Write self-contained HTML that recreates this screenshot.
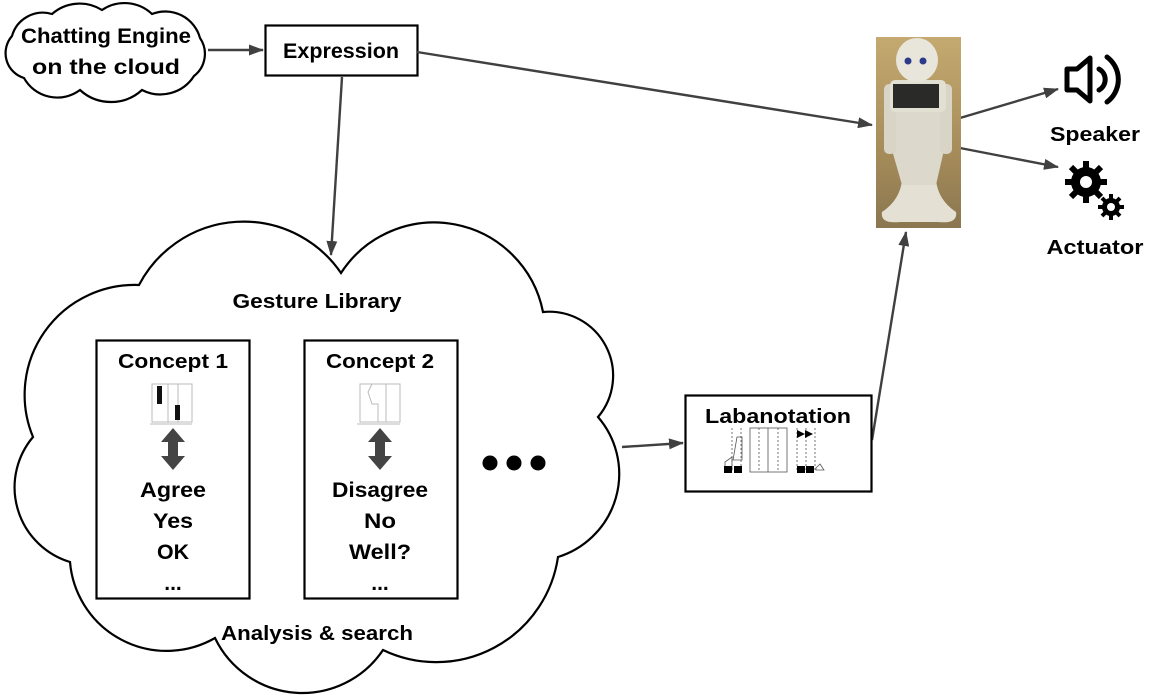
<!DOCTYPE html>
<html><head><meta charset="utf-8"><style>
html,body{margin:0;padding:0;background:#fff;}
svg{display:block;}
text{font-family:"Liberation Sans",sans-serif;font-weight:bold;fill:#000;}
</style></head><body>
<svg width="1157" height="695" viewBox="0 0 1157 695" xmlns="http://www.w3.org/2000/svg">
<defs>
<marker id="ah" markerWidth="15" markerHeight="11" refX="14" refY="5.5" orient="auto" markerUnits="userSpaceOnUse" viewBox="0 0 15 11"><path d="M0,0 L15,5.5 L0,11 z" fill="#404040"/></marker>
<linearGradient id="bg" x1="0" y1="0" x2="0" y2="1"><stop offset="0" stop-color="#c4a970"/><stop offset="0.6" stop-color="#a68c5a"/><stop offset="1" stop-color="#8a7650"/></linearGradient>
</defs>

<!-- small cloud -->
<path fill="#fff" stroke="#000" stroke-width="2.2"
 d="M12,36 A32,32 0 0 1 52,14 A42,42 0 0 1 102,10 A40,40 0 0 1 152,14 A36,36 0 0 1 200,38 A28,28 0 0 1 194,76 A40,40 0 0 1 142,90 A46,46 0 0 1 80,90 A38,38 0 0 1 24,78 A26,26 0 0 1 12,36 Z"/>
<text x="106" y="43" font-size="21" text-anchor="middle" textLength="170" lengthAdjust="spacingAndGlyphs">Chatting Engine</text>
<text x="106" y="74" font-size="21" text-anchor="middle" textLength="148" lengthAdjust="spacingAndGlyphs">on the cloud</text>

<!-- expression box -->
<rect x="265.5" y="25.5" width="152" height="50" fill="#fff" stroke="#000" stroke-width="2.2"/>
<text x="341" y="58" font-size="21" text-anchor="middle" textLength="116" lengthAdjust="spacingAndGlyphs">Expression</text>

<!-- arrows -->
<g stroke="#404040" stroke-width="2.4" fill="none">
<line x1="208" y1="50" x2="263" y2="50" marker-end="url(#ah)"/>
<line x1="417" y1="52" x2="872" y2="125" marker-end="url(#ah)"/>
<line x1="342" y1="77" x2="331" y2="255" marker-end="url(#ah)"/>
<line x1="622" y1="447" x2="683" y2="443" marker-end="url(#ah)"/>
<line x1="872" y1="440" x2="906" y2="232" marker-end="url(#ah)"/>
<line x1="960" y1="118" x2="1058" y2="89" marker-end="url(#ah)"/>
<line x1="960" y1="148" x2="1058" y2="167" marker-end="url(#ah)"/>
</g>

<!-- big cloud -->
<path fill="#fff" stroke="#000" stroke-width="2.2"
 d="M33,437 A110,110 0 0 1 139,285 A118,118 0 0 1 341,273 A111,111 0 0 1 543,312 A64,64 0 0 1 598,417 A87,87 0 0 1 558,557 A123,123 0 0 1 383,650 A97,97 0 0 1 215,638 A97,97 0 0 1 70,562 A78,78 0 0 1 33,437 Z"/>
<text x="317" y="308" font-size="20" text-anchor="middle" textLength="169" lengthAdjust="spacingAndGlyphs">Gesture Library</text>
<text x="317" y="640" font-size="20" text-anchor="middle" textLength="192" lengthAdjust="spacingAndGlyphs">Analysis &amp; search</text>

<!-- concept 1 -->
<g>
<rect x="96.5" y="340.5" width="153" height="258" fill="#fff" stroke="#000" stroke-width="2.2"/>
<text x="173" y="368" font-size="20" text-anchor="middle" textLength="110" lengthAdjust="spacingAndGlyphs">Concept 1</text>
<g stroke="#bbb" stroke-width="1" fill="none"><rect x="152" y="384" width="40" height="38"/><line x1="168" y1="384" x2="168" y2="422"/><line x1="178" y1="384" x2="178" y2="422"/><line x1="150" y1="424" x2="192" y2="424"/></g>
<rect x="157" y="386" width="5" height="18" fill="#111"/><rect x="175" y="405" width="5" height="15" fill="#111"/>
<path d="M173,428 L185,442 L178,442 L178,456 L185,456 L173,470 L161,456 L168,456 L168,442 L161,442 Z" fill="#444"/>
<text x="173" y="497" font-size="21" text-anchor="middle" textLength="66" lengthAdjust="spacingAndGlyphs">Agree</text>
<text x="173" y="528" font-size="21" text-anchor="middle" textLength="40" lengthAdjust="spacingAndGlyphs">Yes</text>
<text x="173" y="559" font-size="21" text-anchor="middle" textLength="32" lengthAdjust="spacingAndGlyphs">OK</text>
<text x="173" y="590" font-size="21" text-anchor="middle">...</text>
</g>

<!-- concept 2 -->
<g>
<rect x="304.5" y="340.5" width="153" height="258" fill="#fff" stroke="#000" stroke-width="2.2"/>
<text x="380" y="368" font-size="20" text-anchor="middle" textLength="108" lengthAdjust="spacingAndGlyphs">Concept 2</text>
<g stroke="#bbb" stroke-width="1" fill="none"><rect x="360" y="384" width="40" height="38"/><path d="M372,384 L368,392 L372,404 L378,404 L378,422"/><line x1="386" y1="384" x2="386" y2="422"/><line x1="357" y1="424" x2="400" y2="424"/></g>
<path d="M380,428 L392,442 L385,442 L385,456 L392,456 L380,470 L368,456 L375,456 L375,442 L368,442 Z" fill="#444"/>
<text x="380" y="497" font-size="21" text-anchor="middle" textLength="96" lengthAdjust="spacingAndGlyphs">Disagree</text>
<text x="380" y="528" font-size="21" text-anchor="middle" textLength="32" lengthAdjust="spacingAndGlyphs">No</text>
<text x="380" y="559" font-size="21" text-anchor="middle" textLength="62" lengthAdjust="spacingAndGlyphs">Well?</text>
<text x="380" y="590" font-size="21" text-anchor="middle">...</text>
</g>

<!-- ellipsis dots -->
<g fill="#000">
<circle cx="490" cy="463" r="7.5"/><circle cx="514" cy="463" r="7.5"/><circle cx="538" cy="463" r="7.5"/>
</g>

<!-- labanotation box -->
<g>
<rect x="685.5" y="395.5" width="186" height="96" fill="#fff" stroke="#000" stroke-width="2.2"/>
<text x="778" y="423" font-size="20" text-anchor="middle" textLength="146" lengthAdjust="spacingAndGlyphs">Labanotation</text>
<g stroke="#555" stroke-width="0.8" fill="none">
<line x1="732" y1="428" x2="732" y2="472" stroke-dasharray="2,2"/><line x1="741" y1="428" x2="741" y2="472" stroke-dasharray="2,2"/>
<rect x="750" y="428" width="37" height="44"/><line x1="768" y1="428" x2="768" y2="472"/>
<line x1="759" y1="428" x2="759" y2="472" stroke-dasharray="2,2"/><line x1="778" y1="428" x2="778" y2="472" stroke-dasharray="2,2"/>
<line x1="797" y1="428" x2="797" y2="472" stroke-dasharray="2,2"/><line x1="806" y1="428" x2="806" y2="472" stroke-dasharray="2,2"/><line x1="815" y1="428" x2="815" y2="472" stroke-dasharray="2,2"/>
<path d="M737,437 L742,437 L742,460 L733,460 Z"/><path d="M725,462 L732,457 L732,470 L725,470 Z"/><path d="M816,468 L820,464 L824,470 L816,470 Z"/>
</g>
<rect x="724" y="466" width="8" height="7" fill="#000"/><rect x="734" y="466" width="8" height="7" fill="#000"/>
<rect x="797" y="466" width="8" height="7" fill="#000"/><rect x="806" y="466" width="8" height="7" fill="#000"/>
<path d="M797,430 L805,434 L797,438 Z M805,430 L813,434 L805,438 Z" fill="#000"/>
</g>

<!-- robot photo -->
<g>
<rect x="876" y="37" width="85" height="191" fill="url(#bg)"/>
<path d="M902,180 Q900,200 882,212 Q880,224 900,222 L938,222 Q958,224 956,212 Q938,200 936,180 Z" fill="#e4e1d4"/>
<path d="M896,110 L940,110 L944,150 L936,185 L902,185 L892,150 Z" fill="#dcd9cc"/>
<rect x="884" y="84" width="12" height="70" rx="5" fill="#d8d4c6"/><rect x="940" y="84" width="12" height="70" rx="5" fill="#d8d4c6"/>
<rect x="890" y="80" width="56" height="32" rx="5" fill="#e2dfd3"/>
<ellipse cx="917" cy="60" rx="21" ry="22" fill="#e8e5da"/>
<circle cx="908" cy="61" r="3.5" fill="#2b3b8a"/><circle cx="923" cy="61" r="3.5" fill="#2b3b8a"/>
<rect x="893" y="84" width="46" height="24" fill="#2a2a28"/>
</g>

<!-- speaker icon -->
<g fill="none" stroke="#000" stroke-width="5" stroke-linejoin="round" stroke-linecap="round">
<path d="M1067,69 L1077,69 L1090,58 L1090,101 L1077,90 L1067,90 Z"/>
<path d="M1099,69 A12,12 0 0 1 1099,90"/>
<path d="M1107,57 A28,28 0 0 1 1107,102"/>
</g>
<text x="1095" y="141" font-size="20" text-anchor="middle" textLength="90" lengthAdjust="spacingAndGlyphs">Speaker</text>

<!-- gears icon -->
<g>
<g fill="#000">
<circle cx="1086" cy="182" r="15"/>
<g stroke="#000" stroke-width="6">
<line x1="1086" y1="161" x2="1086" y2="203"/><line x1="1065" y1="182" x2="1107" y2="182"/>
<line x1="1071" y1="167" x2="1101" y2="197"/><line x1="1101" y1="167" x2="1071" y2="197"/>
</g>
<circle cx="1111" cy="207" r="9"/>
<g stroke="#000" stroke-width="4">
<line x1="1111" y1="194" x2="1111" y2="220"/><line x1="1098" y1="207" x2="1124" y2="207"/>
<line x1="1102" y1="198" x2="1120" y2="216"/><line x1="1120" y1="198" x2="1102" y2="216"/>
</g>
</g>
<circle cx="1086" cy="182" r="6" fill="#fff"/>
<circle cx="1111" cy="207" r="4" fill="#fff"/>
</g>
<text x="1095" y="254" font-size="20" text-anchor="middle" textLength="97" lengthAdjust="spacingAndGlyphs">Actuator</text>
</svg>
</body></html>
